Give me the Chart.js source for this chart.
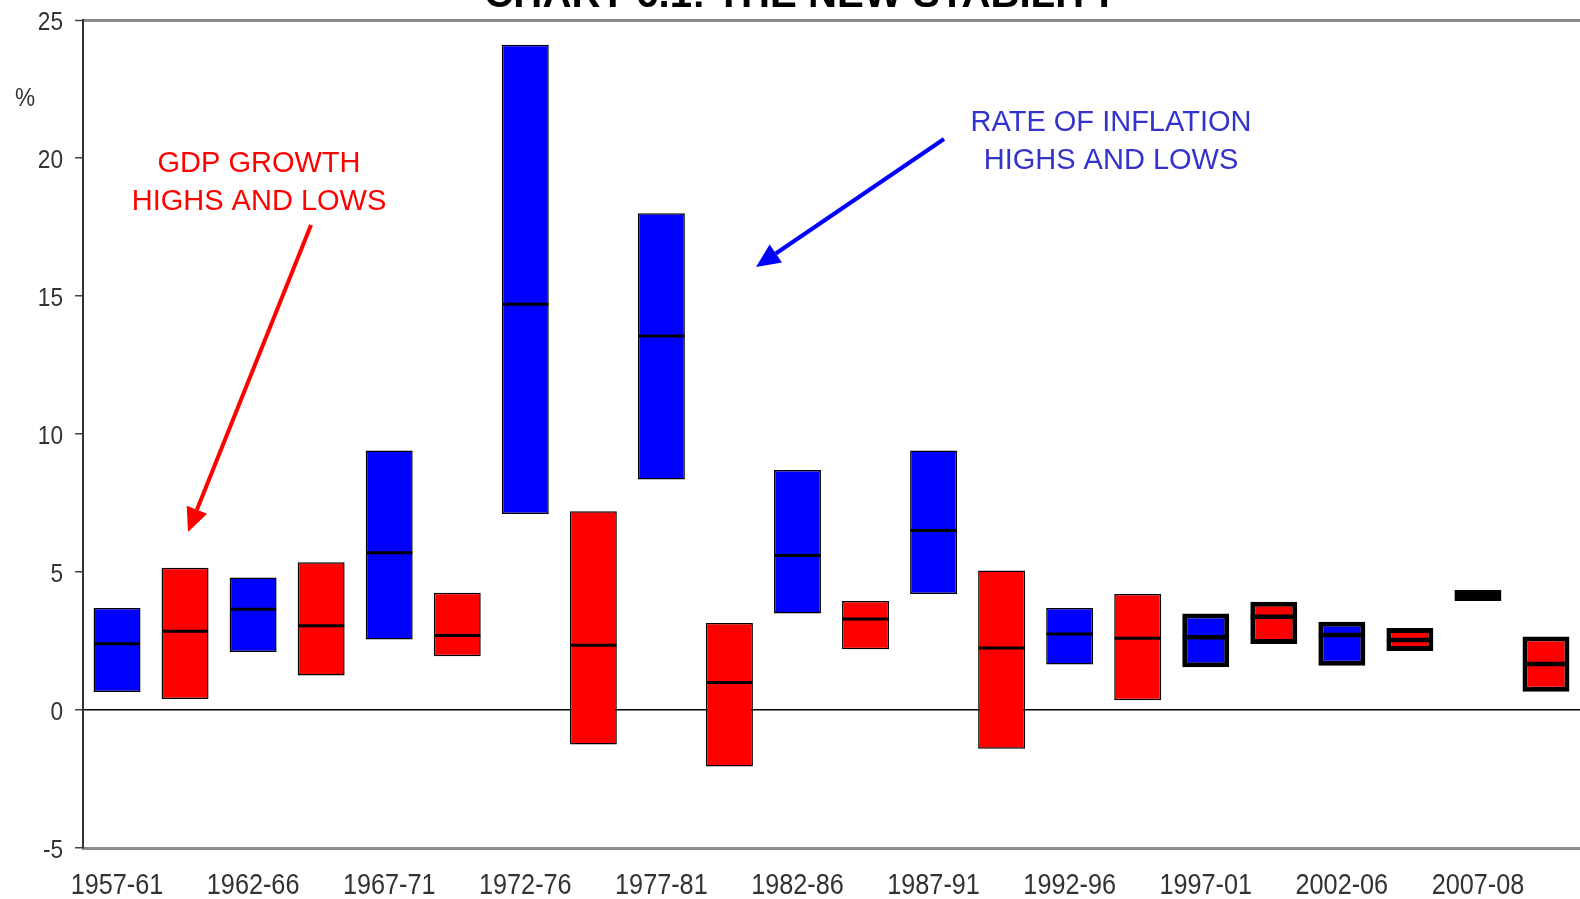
<!DOCTYPE html>
<html>
<head>
<meta charset="utf-8">
<script src="https://cdn.jsdelivr.net/npm/chart.js@4.4.1/dist/chart.umd.min.js"></script>
<style>
  html, body { margin: 0; padding: 0; background: #fff; overflow: hidden; }
  #wrap { width: 1580px; height: 899px; position: relative; }
</style>
</head>
<body>
<div id="wrap"><canvas id="myChart"></canvas></div>
<script>
// periods shown on the x axis (each has an inflation slot then a GDP slot)
var periods = ['1957-61', '1962-66', '1967-71', '1972-76', '1977-81', '1982-86',
               '1987-91', '1992-96', '1997-01', '2002-06', '2007-08'];

// rate of inflation, % (high / low / average)
var inflationHigh = [3.7, 4.8, 9.4, 24.1, 18.0, 8.7, 9.4, 3.7, 3.5, 3.2, 4.35];
var inflationLow  = [0.65, 2.1, 2.55, 7.1, 8.35, 3.5, 4.2, 1.65, 1.55, 1.6, 3.95];
var inflationAvg  = [2.4, 3.65, 5.7, 14.7, 13.55, 5.6, 6.5, 2.75, 2.64, 2.72, 4.15];

// GDP growth, % (high / low / average)
var gdpHigh = [5.15, 5.35, 4.25, 7.2, 3.15, 3.95, 5.05, 4.2, 3.92, 2.97, 2.66];
var gdpLow  = [0.4, 1.25, 1.95, -1.25, -2.05, 2.2, -1.4, 0.35, 2.39, 2.14, 0.66];
var gdpAvg  = [2.85, 3.05, 2.7, 2.35, 1.0, 3.3, 2.25, 2.6, 3.38, 2.54, 1.67];

var yTicks = [-5, 0, 5, 10, 15, 20, 25];

// build the 22 slots: inflation (blue) then GDP (red) for every period
var labels = [], blueData = [], redData = [], avgData = [], borderW = [], midW = [];
periods.forEach(function (p, i) {
  var heavy = i >= 8; // later periods drawn with heavy outlines
  labels.push(p, '');
  blueData.push([inflationLow[i], inflationHigh[i]], null);
  redData.push(null, [gdpLow[i], gdpHigh[i]]);
  avgData.push(inflationAvg[i], gdpAvg[i]);
  borderW.push(heavy ? 5 : 1.5, heavy ? 5 : 1.5);
  midW.push(heavy ? 4.5 : 3, heavy ? 4.5 : 3);
});

var sans = '"Liberation Sans", Arial, sans-serif';

// narrow-looking text: regular Arial squeezed horizontally
function narrowText(ctx, txt, x, y, size, align) {
  ctx.save();
  ctx.font = size + 'px ' + sans;
  ctx.textAlign = align; ctx.textBaseline = 'alphabetic';
  ctx.translate(x, y);
  ctx.scale(0.87, 1);
  ctx.fillText(txt, 0, 0);
  ctx.restore();
}

function arrow(ctx, x1, y1, x2, y2, color) {
  var ang = Math.atan2(y2 - y1, x2 - x1), len = 24, half = 11;
  var bx = x2 - len * Math.cos(ang), by = y2 - len * Math.sin(ang);
  ctx.strokeStyle = color; ctx.fillStyle = color; ctx.lineWidth = 4;
  ctx.beginPath(); ctx.moveTo(x1, y1); ctx.lineTo(bx, by); ctx.stroke();
  ctx.beginPath();
  ctx.moveTo(x2, y2);
  ctx.lineTo(bx + half * Math.sin(ang), by - half * Math.cos(ang));
  ctx.lineTo(bx - half * Math.sin(ang), by + half * Math.cos(ang));
  ctx.closePath(); ctx.fill();
}

// axis tick labels, placed with the chart's own scales
var tickText = {
  id: 'tickText',
  afterDraw: function (chart) {
    var ctx = chart.ctx, xs = chart.scales.x, ys = chart.scales.y;
    ctx.save();
    ctx.fillStyle = '#333';
    xs.ticks.forEach(function (t, i) {
      var lab = xs.getLabelForValue(t.value);
      if (lab) narrowText(ctx, lab, xs.getPixelForTick(i), xs.top + 46, 29, 'center');
    });
    ys.ticks.forEach(function (t) {
      narrowText(ctx, String(t.value), ys.right - 20, ys.getPixelForValue(t.value) + 9.5, 26, 'right');
    });
    narrowText(ctx, '%', 25, 106, 26, 'center');
    ctx.restore();
  }
};

var notes = {
  id: 'notes',
  afterDraw: function (chart) {
    var ctx = chart.ctx;
    ctx.save();
    // title, cut off at the top of the picture
    ctx.fillStyle = '#000';
    ctx.font = 'bold 36px ' + sans;
    var w = ctx.measureText('CHART 6.1: THE NEW STABILITY').width;
    ctx.font = 'bold ' + (36 * 634 / w).toFixed(1) + 'px ' + sans;
    ctx.textAlign = 'center'; ctx.textBaseline = 'alphabetic';
    ctx.fillText('CHART 6.1: THE NEW STABILITY', 801, 7);

    ctx.font = '29px ' + sans;
    ctx.fillStyle = '#ff0000';
    ctx.fillText('GDP GROWTH', 259, 172);
    ctx.fillText('HIGHS AND LOWS', 259, 210);
    ctx.fillStyle = '#3333cc';
    ctx.fillText('RATE OF INFLATION', 1111, 131);
    ctx.fillText('HIGHS AND LOWS', 1111, 169);

    arrow(ctx, 311, 225, 188, 532, '#ff0000');
    arrow(ctx, 944, 139, 756, 267, '#0000ff');
    ctx.restore();
  }
};

new Chart('myChart', {
  data: {
    labels: labels,
    datasets: [{
      type: 'bar',
      label: 'Rate of inflation',
      data: blueData,
      backgroundColor: '#0000ff',
      borderColor: '#000',
      borderWidth: borderW,
      borderSkipped: false,
      grouped: false,
      barPercentage: 0.69,
      categoryPercentage: 1,
      order: 2
    }, {
      type: 'bar',
      label: 'GDP growth',
      data: redData,
      backgroundColor: '#ff0000',
      borderColor: '#000',
      borderWidth: borderW,
      borderSkipped: false,
      grouped: false,
      barPercentage: 0.69,
      categoryPercentage: 1,
      order: 2
    }, {
      type: 'line',
      label: 'Average',
      data: avgData,
      showLine: false,
      pointStyle: 'line',
      pointRadius: 23,
      pointHoverRadius: 23,
      pointBorderColor: '#000',
      pointBorderWidth: midW,
      pointHoverBorderWidth: midW,
      order: 1
    }]
  },
  options: {
    responsive: true,
    maintainAspectRatio: false,
    animation: false,
    layout: { autoPadding: false, padding: { top: 20, right: 0, bottom: 0, left: 0 } },
    plugins: { legend: { display: false }, tooltip: { enabled: false } },
    scales: {
      x: {
        type: 'category',
        offset: true,
        grid: { display: false, drawTicks: false },
        border: { display: true, color: '#8c8c8c', width: 3 },
        ticks: { display: false, autoSkip: false, maxRotation: 0 },
        afterFit: function (s) {
          s.height = 51;
          s.paddingLeft = 0; s.paddingRight = 0; s.paddingTop = 0; s.paddingBottom = 0;
        }
      },
      y: {
        min: -5, max: 25,
        afterBuildTicks: function (s) { s.ticks = yTicks.map(function (v) { return { value: v }; }); },
        grid: {
          color: function (c) {
            if (c.tick.value === 0) return '#000';
            if (c.tick.value === 25) return '#8c8c8c';
            return 'rgba(0,0,0,0)';
          },
          lineWidth: function (c) { return c.tick.value === 25 ? 3 : 1.5; },
          tickColor: '#444', tickWidth: 1.5, tickLength: 8
        },
        border: { display: true, color: '#333', width: 2 },
        ticks: { display: false },
        afterFit: function (s) {
          s.width = 83;
          s.paddingLeft = 0; s.paddingRight = 0; s.paddingTop = 0; s.paddingBottom = 0;
        }
      }
    }
  },
  plugins: [notes, tickText]
});
</script>
</body>
</html>
